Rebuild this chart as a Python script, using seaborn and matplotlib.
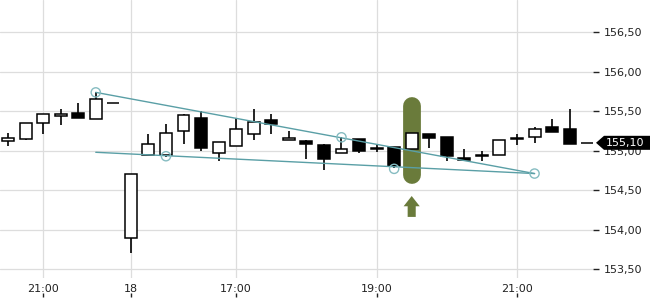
import matplotlib
matplotlib.use("Agg")
import numpy as np
import pandas as pd
import matplotlib.pyplot as plt
import matplotlib.transforms as mtransforms
from matplotlib.patches import Polygon, FancyArrow
import seaborn as sns

# ---------------- data ----------------
opens = [155.12, 155.145, 155.35, 155.44, 155.48, 155.40, 155.61, 153.89, 154.95, 154.94,
         155.25, 155.41, 154.97, 155.06, 155.21, 155.39, 155.13, 155.12, 155.07, 154.97,
         155.15, 155.03, 155.05, 155.02, 155.21, 155.17, 154.91, 154.945, 154.94, 155.16,
         155.17, 155.30, 155.28, 155.10]
highs = [155.22, 155.35, 155.46, 155.525, 155.60, 155.74, 155.61, 154.70, 155.21, 155.34,
         155.46, 155.50, 155.11, 155.41, 155.53, 155.47, 155.25, 155.13, 155.08, 155.17,
         155.15, 155.07, 155.05, 155.22, 155.21, 155.17, 155.02, 154.99, 155.13, 155.21,
         155.30, 155.40, 155.53, 155.10]
lows = [155.06, 155.13, 155.21, 155.32, 155.41, 155.40, 155.61, 153.70, 154.95, 154.92,
        155.08, 155.00, 154.87, 155.06, 155.14, 155.21, 155.13, 154.90, 154.76, 154.97,
        154.97, 154.98, 154.78, 155.02, 155.03, 154.87, 154.88, 154.87, 154.94, 155.07,
        155.10, 155.24, 155.08, 155.10]
closes = [155.16, 155.35, 155.46, 155.47, 155.41, 155.65, 155.61, 154.70, 155.08, 155.23,
          155.45, 155.03, 155.11, 155.27, 155.37, 155.34, 155.16, 155.08, 154.89, 155.02,
          154.99, 155.02, 154.80, 155.22, 155.16, 154.93, 154.88, 154.935, 155.13, 155.15,
          155.27, 155.24, 155.08, 155.10]

x_tick_pos = [2, 7, 13, 21, 29]
x_tick_labels = ["21:00", "18", "17:00", "19:00", "21:00"]
y_ticks = [153.5, 154.0, 154.5, 155.0, 155.5, 156.0, 156.5]
last_price = 155.10

upper_x = [5, 30]
upper_y = [155.74, 154.71]
lower_x = [5, 30]
lower_y = [154.98, 154.71]
pivot_x = [5, 9, 19, 22, 30]
pivot_y = [155.74, 154.93, 155.17, 154.77, 154.71]

signal_idx = 23
signal_top = 155.565
signal_bottom = 154.686
arrow_base = 154.16
arrow_tip = 154.425

df = pd.DataFrame({"i": np.arange(len(opens)), "open": opens, "high": highs,
                   "low": lows, "close": closes})

# ---------------- style ----------------
sns.set_theme(style="whitegrid")
plt.rcParams['font.family'] = ['DejaVu Sans']

fig = plt.figure(figsize=(6.5, 3), dpi=100)
ax = fig.add_axes([0, 22 / 300, 593 / 650, 278 / 300])
ax.set_facecolor("white")
fig.patch.set_facecolor("white")

ax.set_xlim(-0.456, 33.33)
ax.set_ylim(153.385, 156.912)

# signal pill behind the candle
ax.plot([signal_idx, signal_idx], [signal_bottom, signal_top], color="#6a7b3b",
        lw=12.8, solid_capstyle="round", zorder=1.5)

# wicks
ax.vlines(df["i"], df["low"], df["high"], color="black", lw=1.2, zorder=2)

# bodies
up = df["close"] >= df["open"]
body_bottom = np.minimum(df["open"], df["close"])
body_h = np.abs(df["close"] - df["open"])
ax.bar(df["i"][up], body_h[up], bottom=body_bottom[up], width=0.68,
       color="white", edgecolor="black", linewidth=1.1, zorder=3)
ax.bar(df["i"][~up], body_h[~up], bottom=body_bottom[~up], width=0.68,
       color="black", edgecolor="black", linewidth=1.1, zorder=3)

# trend lines
tcol = "#5a9fa6"
sns.lineplot(x=upper_x, y=upper_y, ax=ax, color=tcol, lw=1.0, zorder=4)
sns.lineplot(x=lower_x, y=lower_y, ax=ax, color=tcol, lw=1.0, zorder=4)
ax.scatter(pivot_x, pivot_y, s=44, facecolors="none", edgecolors="#86bcc1",
           linewidths=1.0, zorder=5)

# signal arrow
ax.add_patch(FancyArrow(signal_idx, arrow_base, 0, arrow_tip - arrow_base,
                        width=0.46, head_width=0.92, head_length=0.13,
                        length_includes_head=True, color="#6a7b3b", lw=0, zorder=4))

# axes styling
for s in ax.spines.values():
    s.set_visible(False)
ax.grid(True, color="#dddddd", lw=0.9)
ax.yaxis.tick_right()
ax.set_yticks(y_ticks)
ax.set_yticklabels([f"{v:.2f}".replace(".", ",") for v in y_ticks])
ax.tick_params(axis="y", which="both", right=True, left=False, length=4, width=1.0,
               color="#222222", pad=4, labelsize=8, labelcolor="#222222")
ax.set_xticks(x_tick_pos)
ax.set_xticklabels(x_tick_labels)
ax.tick_params(axis="x", length=0, pad=4, labelsize=8, labelcolor="#222222")
ax.set_xlabel("")
ax.set_ylabel("")

# small time-axis tick marks beneath the labels
xblend = mtransforms.blended_transform_factory(ax.transData, ax.transAxes)
ax.vlines(x_tick_pos, -0.054, -0.07, transform=xblend, color="#222222", lw=1.0,
          clip_on=False, zorder=6)

# last price tag
blend = mtransforms.blended_transform_factory(ax.transAxes, ax.transData)
h = 0.089
x0, x1, x2 = 596 / 593, 604 / 593, 652 / 593
tag = Polygon([[x0, last_price], [x1, last_price + h], [x2, last_price + h],
               [x2, last_price - h], [x1, last_price - h]], closed=True,
              transform=blend, facecolor="black", edgecolor="none",
              clip_on=False, zorder=10)
ax.add_patch(tag)
ax.text(606 / 593, last_price, f"{last_price:.2f}".replace(".", ","), transform=blend,
        color="white", fontsize=8, ha="left", va="center", zorder=11, clip_on=False)

fig.savefig("out.png", dpi=100)
